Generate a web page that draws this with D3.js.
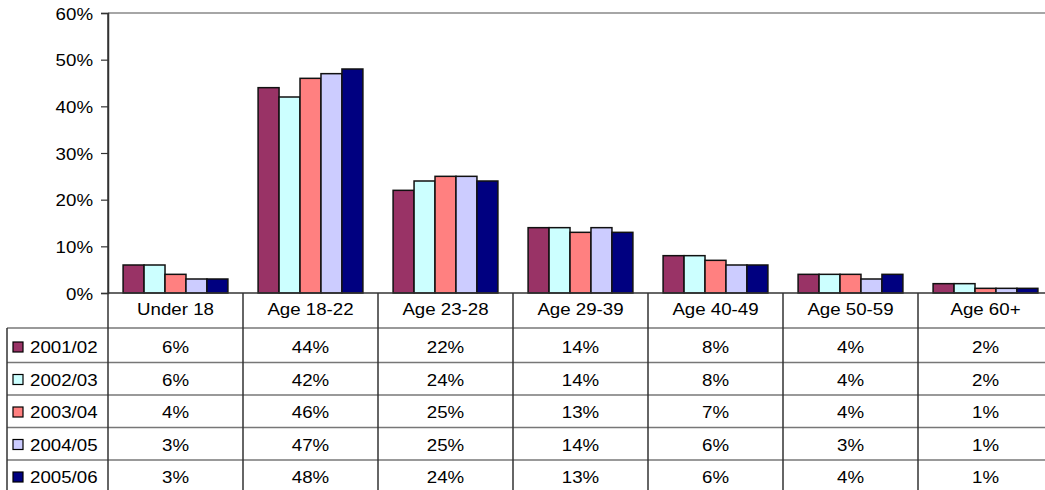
<!DOCTYPE html>
<html>
<head>
<meta charset="utf-8">
<script src="https://cdn.jsdelivr.net/npm/d3@7"></script>
<style>
  body { margin: 0; background: #fff; overflow: hidden; }
  text { font-family: "Liberation Sans", Arial, sans-serif; font-size: 17px; fill: #000; }
</style>
</head>
<body>
<div id="chart"></div>
<script>
const categories = ["Under 18", "Age 18-22", "Age 23-28", "Age 29-39", "Age 40-49", "Age 50-59", "Age 60+"];
const seriesNames = ["2001/02", "2002/03", "2003/04", "2004/05", "2005/06"];
const s2001 = [6, 44, 22, 14, 8, 4, 2];
const s2002 = [6, 42, 24, 14, 8, 4, 2];
const s2003 = [4, 46, 25, 13, 7, 4, 1];
const s2004 = [3, 47, 25, 14, 6, 3, 1];
const s2005 = [3, 48, 24, 13, 6, 4, 1];
const yTicks = [0, 10, 20, 30, 40, 50, 60];

const seriesValues = [s2001, s2002, s2003, s2004, s2005];
const colors = ["#993366", "#CCFFFF", "#FF8080", "#CCCCFF", "#000080"];

const width = 1045, height = 490;
// the plot runs a little past the right edge of the picture (clipped like the original)
const plot = { left: 108, right: 1053, top: 13, bottom: 293 };
const table = { left: 7, headerBottom: 328, firstRow: 330, rowH: 32.5 };
const stretch = 1.1; // the original text is drawn slightly wide

const svg = d3.select("#chart").append("svg")
  .attr("width", width)
  .attr("height", height);

// places a text with its anchor at (x, y), widened a little
function wideText(sel, x, y) {
  return sel.attr("transform", (d, i) => `translate(${x(d, i)},${y(d, i)}) scale(${stretch},1)`);
}

// Scales
const x = d3.scaleBand()
  .domain(categories)
  .range([plot.left, plot.right]);

const x1 = d3.scaleBand()
  .domain(seriesNames)
  .range([0, x.bandwidth()])
  .paddingOuter(0.72);

const y = d3.scaleLinear()
  .domain([0, 60])
  .range([plot.bottom, plot.top]);

// Top border of plot area
svg.append("line")
  .attr("x1", plot.left).attr("x2", plot.right)
  .attr("y1", plot.top).attr("y2", plot.top)
  .attr("stroke", "#888").attr("stroke-width", 1.5);

// Bars
const groups = svg.selectAll("g.series")
  .data(seriesNames)
  .enter().append("g")
  .attr("class", "series")
  .attr("fill", (_, i) => colors[i]);

groups.selectAll("rect")
  .data((name, i) => seriesValues[i].map((v, j) => ({ name, v, cat: categories[j] })))
  .enter().append("rect")
  .attr("x", d => x(d.cat) + x1(d.name))
  .attr("width", x1.bandwidth())
  .attr("y", d => y(d.v))
  .attr("height", d => y(0) - y(d.v))
  .attr("stroke", "#111")
  .attr("stroke-width", 1.5);

// Y axis
const yAxis = d3.axisLeft(y)
  .tickValues(yTicks)
  .tickFormat(d => d + "%")
  .tickSize(7);

const gy = svg.append("g")
  .attr("transform", `translate(${plot.left},0)`)
  .call(yAxis);
gy.select(".domain").attr("stroke", "#333").attr("stroke-width", 1.5);
gy.selectAll(".tick line").attr("stroke", "#333").attr("stroke-width", 1.2);
gy.selectAll(".tick text")
  .attr("x", null).attr("dy", null)
  .attr("fill", "#000")
  .style("font-size", "17px")
  .attr("transform", `translate(-15,6) scale(${stretch},1)`);

// Baseline
svg.append("line")
  .attr("x1", plot.left).attr("x2", plot.right)
  .attr("y1", y(0)).attr("y2", y(0))
  .attr("stroke", "#333").attr("stroke-width", 1.5);

// Data table
const rowTop = i => table.firstRow + i * table.rowH;

// horizontal row lines
svg.selectAll("line.row")
  .data(seriesNames)
  .enter().append("line")
  .attr("class", "row")
  .attr("x1", table.left).attr("x2", plot.right)
  .attr("y1", (_, i) => i === 0 ? table.headerBottom : rowTop(i))
  .attr("y2", (_, i) => i === 0 ? table.headerBottom : rowTop(i))
  .attr("stroke", "#777").attr("stroke-width", 1.5);

// vertical lines
svg.append("line")
  .attr("x1", table.left).attr("x2", table.left)
  .attr("y1", table.headerBottom).attr("y2", height)
  .attr("stroke", "#333").attr("stroke-width", 1.5);

svg.selectAll("line.col")
  .data(categories)
  .enter().append("line")
  .attr("class", "col")
  .attr("x1", d => x(d)).attr("x2", d => x(d))
  .attr("y1", d => d === categories[0] ? plot.top : plot.bottom)
  .attr("y2", height)
  .attr("stroke", "#333").attr("stroke-width", 1.5);

// category header labels
svg.selectAll("text.cat")
  .data(categories)
  .enter().append("text")
  .attr("class", "cat")
  .attr("text-anchor", "middle")
  .call(wideText, d => x(d) + x.bandwidth() / 2, () => 314.5)
  .text(d => d);

// legend column
const legendRows = svg.selectAll("g.legend")
  .data(seriesNames)
  .enter().append("g")
  .attr("class", "legend")
  .attr("transform", (_, i) => `translate(0,${rowTop(i)})`);

legendRows.append("rect")
  .attr("x", 13).attr("y", 12)
  .attr("width", 10).attr("height", 10)
  .attr("fill", (_, i) => colors[i])
  .attr("stroke", "#000").attr("stroke-width", 1.2);

legendRows.append("text")
  .call(wideText, () => 30, () => 23)
  .text(d => d);

// values
legendRows.selectAll("text.val")
  .data((_, i) => seriesValues[i])
  .enter().append("text")
  .attr("class", "val")
  .attr("text-anchor", "middle")
  .call(wideText, (_, j) => x(categories[j]) + x.bandwidth() / 2, () => 23)
  .text(v => v + "%");
</script>
</body>
</html>
